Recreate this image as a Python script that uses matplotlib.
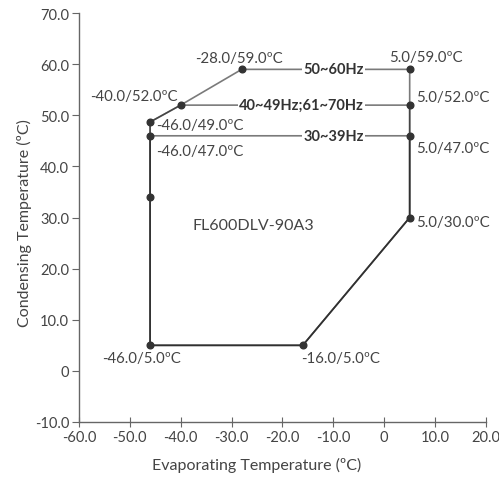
import matplotlib.pyplot as plt

plt.rcParams['font.family'] = ['Lato', 'DejaVu Sans']

# operating envelopes (evaporating, condensing) for each frequency band
band_names = ["50~60Hz", "40~49Hz;61~70Hz", "30~39Hz"]
evap_a = [-46, -16, 5, 5, -28, -40, -46, -46]
cond_a = [5, 5, 30, 59, 59, 52, 48.7, 5]
evap_b = [-46, -16, 5, 5, -40, -46, -46]
cond_b = [5, 5, 30, 52, 52, 48.7, 5]
evap_c = [-46, -16, 5, 5, -46, -46]
cond_c = [5, 5, 30, 46, 46, 5]
band_label_y = [59, 52, 46]

# marked corner points and their labels
pt_x = [-28, -40, -46, -46, 5, 5, 5, 5, -46, -16, -46]
pt_y = [59, 52, 48.7, 46, 59, 52, 46, 30, 5, 5, 34]
pt_text = ["-28.0/59.0ºC", "-40.0/52.0ºC", "-46.0/49.0ºC", "-46.0/47.0ºC",
           "5.0/59.0ºC", "5.0/52.0ºC", "5.0/47.0ºC", "5.0/30.0ºC",
           "-46.0/5.0ºC", "-16.0/5.0ºC", ""]
# label offsets in pixels and alignment
pt_off = [(-3, 4), (-3, 2), (6, -3), (6, -8), (16, 5), (6, 1), (6, -5), (6, -4),
          (-9, -6), (-2, -6), (0, 0)]
pt_ha = ["center", "right", "left", "left", "center", "left", "left", "left",
         "center", "left", "left"]
pt_va = ["bottom", "bottom", "center", "top", "bottom", "bottom", "top", "center",
         "top", "top", "center"]

fig = plt.figure(figsize=(4.99, 4.81), dpi=100)
ax = fig.add_axes([0.158, 0.1206, 0.816, 0.850])

for ex, cy in [(evap_a, cond_a), (evap_b, cond_b), (evap_c, cond_c)]:
    ax.plot(ex, cy, color='#222222', alpha=0.6, lw=1.2, solid_joinstyle='miter')

ax.plot(pt_x, pt_y, 'o', color='#333333', ms=4.8, ls='none', zorder=4)

for x, y, t, off, ha, va in zip(pt_x, pt_y, pt_text, pt_off, pt_ha, pt_va):
    if t:
        ax.annotate(t, (x, y), xytext=off, textcoords='offset pixels',
                    ha=ha, va=va, fontsize=10.8, color='#444444')

for name, y in zip(band_names, band_label_y):
    ax.text(-4, y, name, ha='right', va='center', fontsize=10.5, fontweight='bold',
            color='#333333', zorder=5,
            bbox=dict(facecolor='white', edgecolor='none', pad=0.6))

ax.text(-37.7, 28.5, "FL600DLV-90A3", ha='left', va='center', fontsize=11.5,
        color='#444444')

ax.set_xlim(-60, 20)
ax.set_ylim(-10, 70)
xt = list(range(-60, 21, 10))
yt = list(range(-10, 71, 10))
ax.set_xticks(xt)
ax.set_yticks(yt)
ax.set_xticklabels(["0" if v == 0 else f"{v:.1f}" for v in xt])
ax.set_yticklabels(["0" if v == 0 else f"{v:.1f}" for v in yt])

for s in ['top', 'right']:
    ax.spines[s].set_visible(False)
for s in ['left', 'bottom']:
    ax.spines[s].set_color('#666666')
    ax.spines[s].set_linewidth(1.0)
ax.tick_params(axis='x', direction='inout', length=7, color='#666666',
               labelsize=10.5, labelcolor='#444444', pad=2)
ax.tick_params(axis='y', direction='out', length=5, color='#666666',
               labelsize=10.5, labelcolor='#444444', pad=2)

ax.set_xlabel("Evaporating Temperature (ºC)", fontsize=11.5, color='#444444')
ax.set_ylabel("Condensing Temperature (ºC)", fontsize=11.5, color='#444444')
ax.xaxis.label.set_va('center')
ax.yaxis.label.set_va('center')
ax.xaxis.set_label_coords(0.437, -0.105)
ax.yaxis.set_label_coords(-0.133, 0.49)

fig.savefig("out.png", dpi=100)
